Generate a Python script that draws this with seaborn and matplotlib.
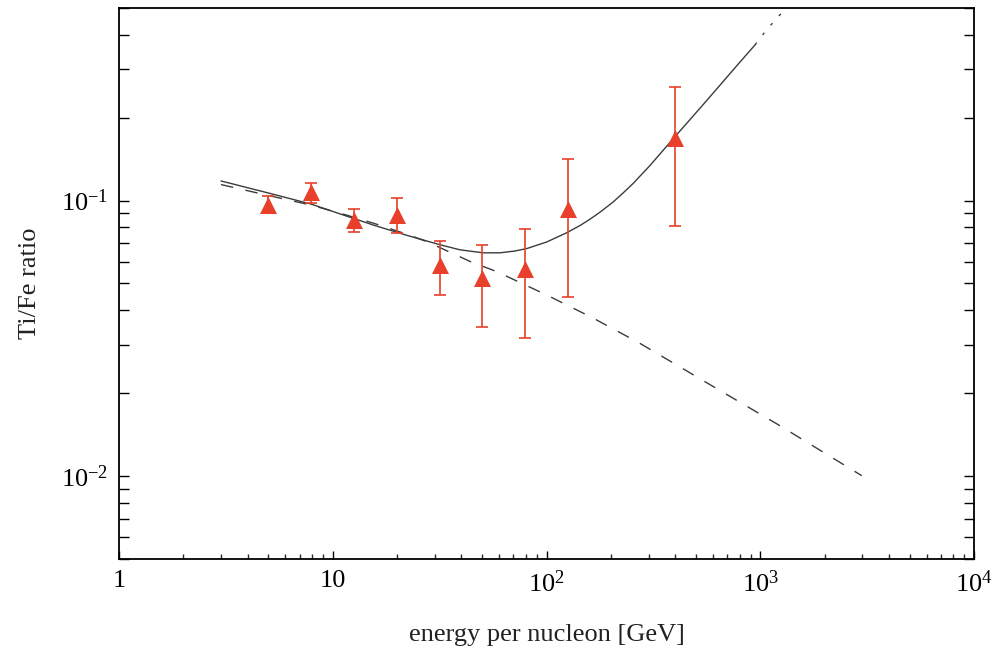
import matplotlib
matplotlib.use('Agg')
import matplotlib.pyplot as plt
import seaborn as sns
import numpy as np
from matplotlib.ticker import FixedLocator, FixedFormatter, NullFormatter

# ---- data ----
energy = [5.0, 7.94, 12.6, 20.0, 31.6, 50.1, 79.4, 126.0, 398.0]
ratio = [0.0967, 0.1074, 0.0852, 0.0889, 0.0584, 0.0523, 0.0565, 0.0935, 0.1693]
ratio_hi = [0.1036, 0.1160, 0.0932, 0.1023, 0.0715, 0.0691, 0.0791, 0.1419, 0.2576]
ratio_lo = [0.0904, 0.0981, 0.0766, 0.0762, 0.0454, 0.0348, 0.0317, 0.0446, 0.0809]

solid_E = [3.0, 5.0, 7.91, 11.41, 15.77, 22.18, 31.76, 39.38, 50.46, 60.59, 71.23,
           80.8, 100.0, 124.3, 143.5, 159.8, 178.0, 204.7, 228.0, 253.9, 304.9,
           390.7, 522.6, 648.2, 803.9, 944.9]
solid_val = [0.1178, 0.1065, 0.0971, 0.0882, 0.0811, 0.0748, 0.0691, 0.06625, 0.06461,
             0.06461, 0.0656, 0.06694, 0.0707, 0.07641, 0.08119, 0.08561, 0.09079,
             0.09875, 0.1065, 0.1153, 0.1341, 0.1675, 0.2165, 0.2625, 0.3185, 0.3673]

ext_E = [944.9, 1052.0, 1211.0, 1330.0]
ext_val = [0.3673, 0.41, 0.465, 0.50]

dash_E = [3.0, 5.0, 7.91, 11.41, 15.77, 22.18, 27.6, 43.9, 58.5, 100.2, 165.6,
          273.7, 571.4, 1194.0, 2983.0]
dash_val = [0.1143, 0.1043, 0.0963, 0.0889, 0.0824, 0.0755, 0.0709, 0.0601, 0.0552,
            0.0454, 0.0374, 0.0303, 0.02164, 0.01547, 0.01003]

x_ticks = [1, 10, 100, 1000, 10000]
x_labels = ['1', '10', r'$10^{2}$', r'$10^{3}$', r'$10^{4}$']
y_ticks = [0.01, 0.1]
y_labels = [r'$10^{-2}$', r'$10^{-1}$']

RED = '#e8402a'
LINE = '#3c3c3c'

sns.set_theme(style='ticks')
plt.rcParams['font.family'] = ['Liberation Serif', 'DejaVu Serif']
plt.rcParams['mathtext.fontset'] = 'custom'
plt.rcParams['mathtext.rm'] = 'Liberation Serif'
plt.rcParams['mathtext.it'] = 'Liberation Serif:italic'
plt.rcParams['mathtext.bf'] = 'Liberation Serif:bold'

fig = plt.figure(figsize=(9.96, 6.55), dpi=100)
fig.patch.set_facecolor('white')
ax = fig.add_axes([0.1195, 0.1466, 0.8585, 0.8412])
ax.set_facecolor('white')
ax.set_xscale('log')
ax.set_yscale('log')

sns.lineplot(x=solid_E, y=solid_val, ax=ax, color=LINE, linewidth=1.0,
             estimator=None, sort=False, zorder=2)
sns.lineplot(x=ext_E, y=ext_val, ax=ax, color=LINE, linewidth=1.0,
             estimator=None, sort=False, zorder=2)
ax.lines[-1].set_dashes([2, 7])
sns.lineplot(x=dash_E, y=dash_val, ax=ax, color=LINE, linewidth=1.0,
             estimator=None, sort=False, zorder=2)
ax.lines[-1].set_dashes([9, 9])

yerr = [np.array(ratio) - np.array(ratio_lo), np.array(ratio_hi) - np.array(ratio)]
ax.errorbar(energy, ratio, yerr=yerr, fmt='none', ecolor=RED, elinewidth=1.2,
            capsize=4.5, capthick=1.2, zorder=3)
sns.scatterplot(x=energy, y=ratio, ax=ax, marker='^', s=150, color=RED,
                linewidth=0, zorder=4)

ax.set_xlim(1, 1e4)
ax.set_ylim(0.005, 0.5)

ax.xaxis.set_major_locator(FixedLocator(x_ticks))
ax.xaxis.set_major_formatter(FixedFormatter(x_labels))
ax.yaxis.set_major_locator(FixedLocator(y_ticks))
ax.yaxis.set_major_formatter(FixedFormatter(y_labels))
ax.xaxis.set_minor_formatter(NullFormatter())
ax.yaxis.set_minor_formatter(NullFormatter())

ax.tick_params(axis='x', which='major', direction='in', length=5.8, width=1.0,
               top=False, bottom=True, labelsize=19, pad=8, colors='black')
ax.tick_params(axis='x', which='minor', direction='in', length=3.6, width=1.0,
               top=False, bottom=True)
ax.tick_params(axis='y', which='both', direction='in', length=7.2, width=1.0,
               left=True, right=True, labelsize=19, pad=8, colors='black')

for sp in ax.spines.values():
    sp.set_visible(True)
    sp.set_linewidth(1.3)
    sp.set_color('black')

ax.set_xlabel('energy per nucleon [GeV]', fontsize=19, labelpad=20, color='#222222')
ax.set_ylabel('Ti/Fe ratio', fontsize=19, labelpad=14, color='#222222')

fig.savefig('out.png', dpi=100, facecolor='white')
